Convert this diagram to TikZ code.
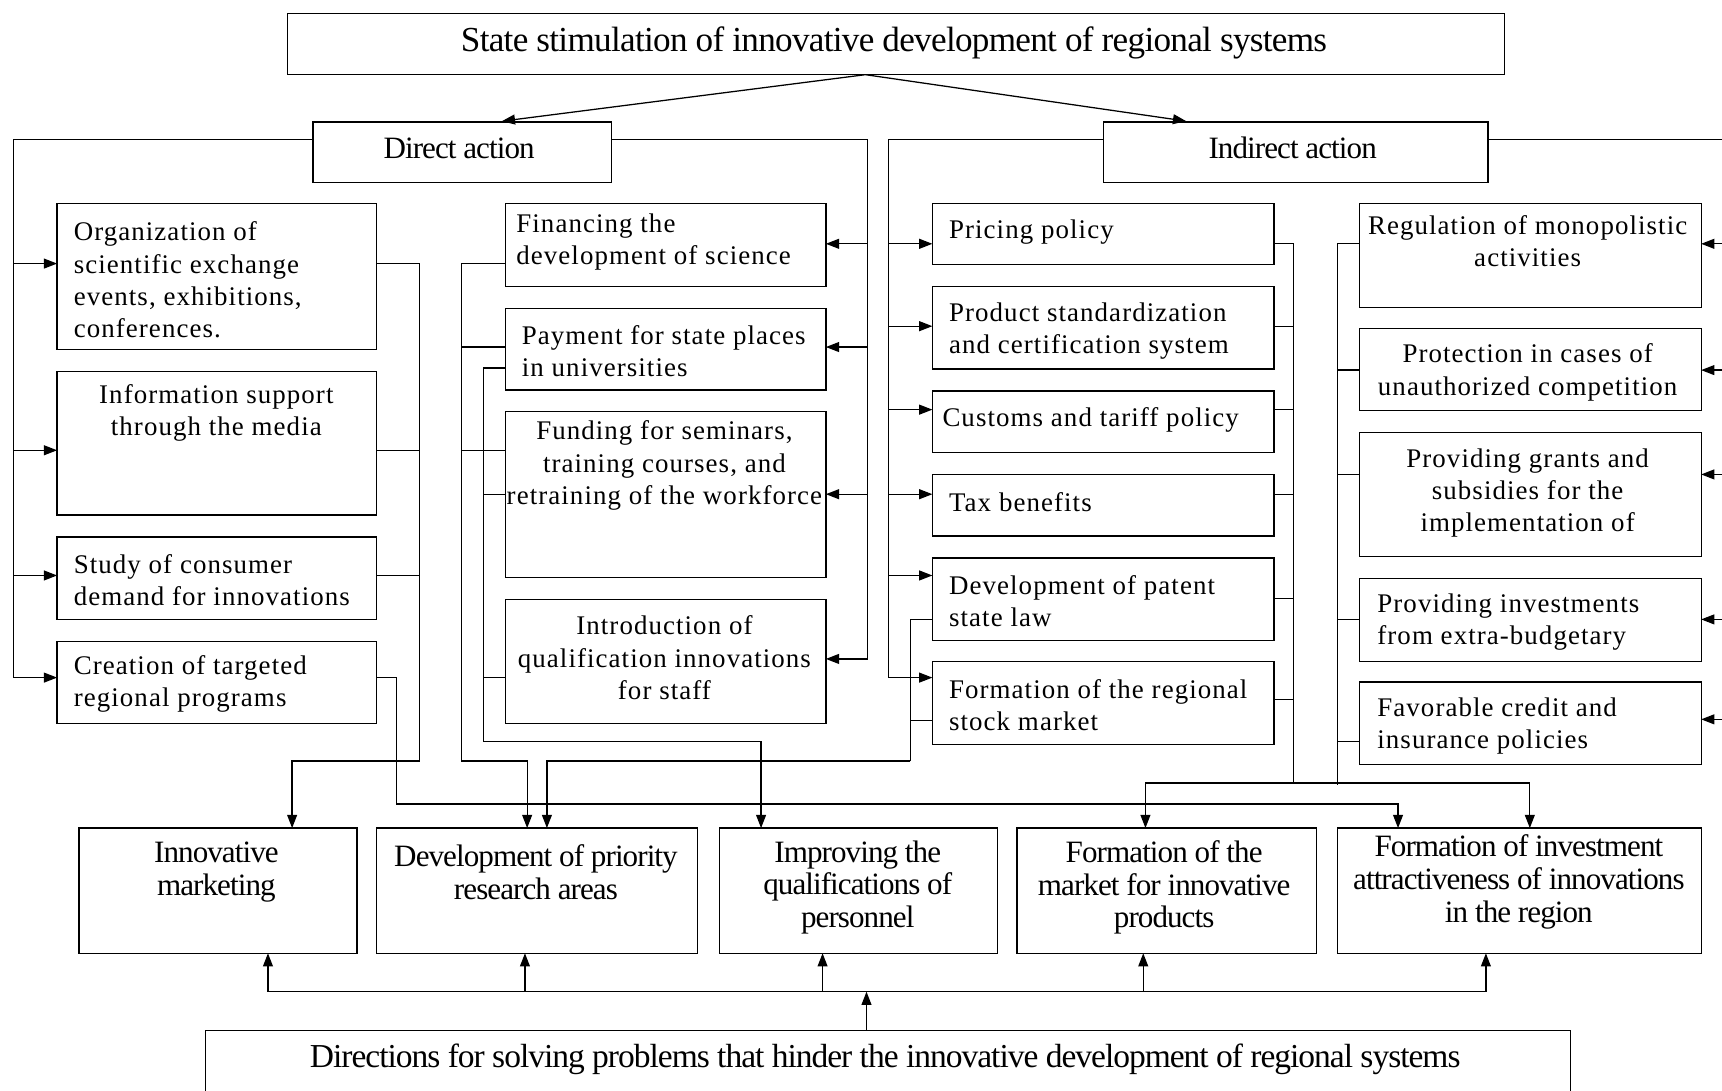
\documentclass[tikz,border=0pt]{standalone}
\usepackage{fontspec}
\usetikzlibrary{arrows.meta,calc}
\setmainfont{Liberation Serif}
\newfontfamily\colfont[LetterSpace=4]{Liberation Serif}
\newfontfamily\headfont[LetterSpace=-3]{Liberation Serif}
\newfontfamily\titlefont[LetterSpace=-2]{Liberation Serif}

\tikzset{
  lw/.style={line width=1.15pt},
  box/.style={draw, lw, inner sep=0pt, outer sep=0pt, anchor=north west},
  ltxt/.style={inner sep=0pt, anchor=west, align=left,
    font={\colfont\fontsize{24.5}{29.5}\selectfont}},
  ctxt/.style={inner sep=0pt, anchor=center, align=center,
    font={\colfont\fontsize{24.5}{29.5}\selectfont}},
  htxt/.style={inner sep=0pt, anchor=center, align=center,
    font={\headfont\fontsize{28.3}{29.8}\selectfont}},
  ttxt/.style={inner sep=0pt, anchor=center, align=center,
    font={\titlefont\fontsize{32}{32}\selectfont}},
  btxt/.style={inner sep=0pt, anchor=center, align=center,
    font={\headfont\fontsize{30.5}{30.5}\selectfont}},
  arr/.style={lw, -{Triangle[length=12pt,width=9pt]}},
  ln/.style={lw},
}

% box with top-left (#2,#3) and bottom-right (#4,#5)
\newcommand{\mkbox}[5]{%
  \node[box, minimum width={#4pt-#2pt}, minimum height={#5pt-#3pt}] (#1) at (#2,#3) {};}

\begin{document}
\begin{tikzpicture}[x=1pt,y=-1pt]
\useasboundingbox (0,0) rectangle (1568,993);

% ---- boxes ----
\mkbox{top}{262}{12}{1370}{68}
\mkbox{dir}{285}{111}{557}{166}
\mkbox{ind}{1005}{111}{1355}{166}

\mkbox{o1}{52}{185}{343}{318}
\mkbox{o2}{52}{338}{343}{469}
\mkbox{o3}{52}{489}{343}{564}
\mkbox{o4}{52}{584}{343}{659}

\mkbox{f1}{460}{185}{752}{261}
\mkbox{f2}{460}{281}{752}{355}
\mkbox{f3}{460}{375}{752}{526}
\mkbox{f4}{460}{546}{752}{659}

\mkbox{p1}{849}{185}{1160}{241}
\mkbox{p2}{849}{261}{1160}{336}
\mkbox{p3}{849}{356}{1160}{412}
\mkbox{p4}{849}{432}{1160}{488}
\mkbox{p5}{849}{508}{1160}{583}
\mkbox{p6}{849}{602}{1160}{678}

\mkbox{r1}{1238}{185}{1549}{280}
\mkbox{r2}{1238}{299}{1549}{374}
\mkbox{r3}{1238}{394}{1549}{507}
\mkbox{r4}{1238}{527}{1549}{602}
\mkbox{r5}{1238}{621}{1549}{696}

\mkbox{b1}{72}{754}{325}{868}
\mkbox{b2}{343}{754}{635}{868}
\mkbox{b3}{655}{754}{908}{868}
\mkbox{b4}{926}{754}{1199}{868}
\mkbox{b5}{1218}{754}{1549}{868}

\mkbox{dirs}{187}{938}{1430}{1010}

% ---- texts ----
\node[ttxt] (topt) at (814,39) {State stimulation of innovative development of regional systems};
\node[htxt] (dirt) at (418,135) {Direct action};
\node[htxt] (indt) at (1177,135) {Indirect action};

\node[ltxt] (o1t) at (67,255) {Organization of\\scientific exchange\\events, exhibitions,\\conferences.};
\node[ctxt] (o2t) at (197,376) {Information support\\through the media};
\node[ltxt] (o3t) at (67,528.5) {Study of consumer\\demand for innovations};
\node[ltxt] (o4t) at (67,623) {Creation of targeted\\regional programs};

\node[ltxt] (f1t) at (470,220.5) {Financing the\\development of science};
\node[ltxt] (f2t) at (475,320) {Payment for state places\\in universities};
\node[ctxt] (f3t) at (605,424) {Funding for seminars,\\training courses, and\\retraining of the workforce};
\node[ctxt] (f4t) at (605,599) {Introduction of\\qualification innovations\\for staff};

\node[ltxt] (p1t) at (864,211) {Pricing policy};
\node[ltxt] (p2t) at (864,301.5) {Product standardization\\and certification system};
\node[ltxt] (p3t) at (858,382) {Customs and tariff policy};
\node[ltxt] (p4t) at (864,457) {Tax benefits};
\node[ltxt] (p5t) at (864,547.5) {Development of patent\\state law};
\node[ltxt] (p6t) at (864,642) {Formation of the regional\\stock market};

\node[ctxt] (r1t) at (1391,219.5) {Regulation of monopolistic\\activities};
\node[ctxt] (r2t) at (1391,339) {Protection in cases of\\unauthorized competition};
\node[ctxt] (r3t) at (1391,449) {Providing grants and\\subsidies for the\\implementation of};
\node[ltxt] (r4t) at (1254,566.5) {Providing investments\\from extra-budgetary};
\node[ltxt] (r5t) at (1254,661) {Favorable credit and\\insurance policies};

\node[htxt] (b1t) at (197,794) {Innovative\\marketing};
\node[htxt] (b2t) at (488,794) {Development of priority\\research areas};
\node[htxt] (b3t) at (781,808) {Improving the\\qualifications of\\personnel};
\node[htxt] (b4t) at (1060,808) {Formation of the\\market for innovative\\products};
\node[htxt] (b5t) at (1383,803) {Formation of investment\\attractiveness of innovations\\in the region};

\node[btxt] (dirst) at (806,965) {Directions for solving problems that hinder the innovative development of regional systems};

% ---- connectors ----
% top level split
\draw[arr, shorten >=5pt] (top.south -| 788,0) -- (dir.north -| 452,0);
\draw[arr, shorten >=5pt] (top.south -| 788,0) -- (ind.north -| 1085,0);

% direct action, left bus
\draw[ln] (dir.west |- 0,127) -| (12,617);
\draw[arr] (12,240) -- (o1.west |- 0,240);
\draw[arr] (12,410) -- (o2.west |- 0,410);
\draw[arr] (12,524) -- (o3.west |- 0,524);
\draw[arr] (12,617) -- (o4.west |- 0,617);

% direct action, right bus
\draw[ln] (dir.east |- 0,127) -| (790,600);
\draw[arr] (790,222) -- (f1.east |- 0,222);
\draw[arr] (790,316) -- (f2.east |- 0,316);
\draw[arr] (790,450) -- (f3.east |- 0,450);
\draw[arr] (790,600) -- (f4.east |- 0,600);

% indirect action, left bus
\draw[ln] (ind.west |- 0,127) -| (809,617);
\draw[arr] (809,222) -- (p1.west |- 0,222);
\draw[arr] (809,297) -- (p2.west |- 0,297);
\draw[arr] (809,373) -- (p3.west |- 0,373);
\draw[arr] (809,450) -- (p4.west |- 0,450);
\draw[arr] (809,524) -- (p5.west |- 0,524);
\draw[arr] (809,617) -- (p6.west |- 0,617);

% indirect action, right side
\draw[ln] (ind.east |- 0,127) -- (1568,127);
\draw[arr] (1568,222) -- (r1.east |- 0,222);
\draw[arr] (1568,337) -- (r2.east |- 0,337);
\draw[arr] (1568,432) -- (r3.east |- 0,432);
\draw[arr] (1568,564) -- (r4.east |- 0,564);
\draw[arr] (1568,655) -- (r5.east |- 0,655);

% left column -> innovative marketing
\draw[ln] (o1.east |- 0,240) -| (382,693);
\draw[ln] (o2.east |- 0,410) -- (382,410);
\draw[ln] (o3.east |- 0,524) -- (382,524);
\draw[arr] (382,693) -| (b1.north -| 266,0);

% targeted programmes -> investment attractiveness
\draw[arr] (o4.east |- 0,617) -| (361,732) -| (b5.north -| 1273,0);

% middle-left column, first bus -> priority research
\draw[ln] (f1.west |- 0,240) -| (420,693);
\draw[ln] (f2.west |- 0,316) -- (420,316);
\draw[ln] (f3.west |- 0,410) -- (420,410);
\draw[arr] (420,693) -| (b2.north -| 480,0);

% middle-left column, second bus -> qualifications
\draw[ln] (f2.west |- 0,335) -| (440,675);
\draw[ln] (f3.west |- 0,450) -- (440,450);
\draw[ln] (f4.west |- 0,617) -- (440,617);
\draw[arr] (440,675) -| (b3.north -| 693,0);

% patent law and stock market -> priority research
\draw[ln] (p5.west |- 0,564) -| (829,693);
\draw[ln] (p6.west |- 0,656) -- (829,656);
\draw[arr] (829,693) -| (b2.north -| 498,0);

% middle-right column bus
\draw[ln] (p1.east |- 0,222) -| (1178,713);
\draw[ln] (p2.east |- 0,297) -- (1178,297);
\draw[ln] (p3.east |- 0,373) -- (1178,373);
\draw[ln] (p4.east |- 0,450) -- (1178,450);
\draw[ln] (p5.east |- 0,545) -- (1178,545);
\draw[ln] (p6.east |- 0,637) -- (1178,637);

% right column bus
\draw[ln] (r1.west |- 0,222) -| (1218,715);
\draw[ln] (r2.west |- 0,337) -- (1218,337);
\draw[ln] (r3.west |- 0,432) -- (1218,432);
\draw[ln] (r4.west |- 0,564) -- (1218,564);
\draw[ln] (r5.west |- 0,675) -- (1218,675);

% joint bus -> market and investment boxes
\draw[arr] (1178,713) -| (b4.north -| 1043,0);
\draw[arr] (1178,713) -| (b5.north -| 1393,0);

% bottom box feeding the five directions
\draw[arr] (dirs.north -| 789,0) -- (789,903);
\draw[ln] (244,903) -- (1353,903);
\draw[arr] (244,903) -- (b1.south -| 244,0);
\draw[arr] (478,903) -- (b2.south -| 478,0);
\draw[arr] (749,903) -- (b3.south -| 749,0);
\draw[arr] (1041,903) -- (b4.south -| 1041,0);
\draw[arr] (1353,903) -- (b5.south -| 1353,0);
\end{tikzpicture}
\end{document}
